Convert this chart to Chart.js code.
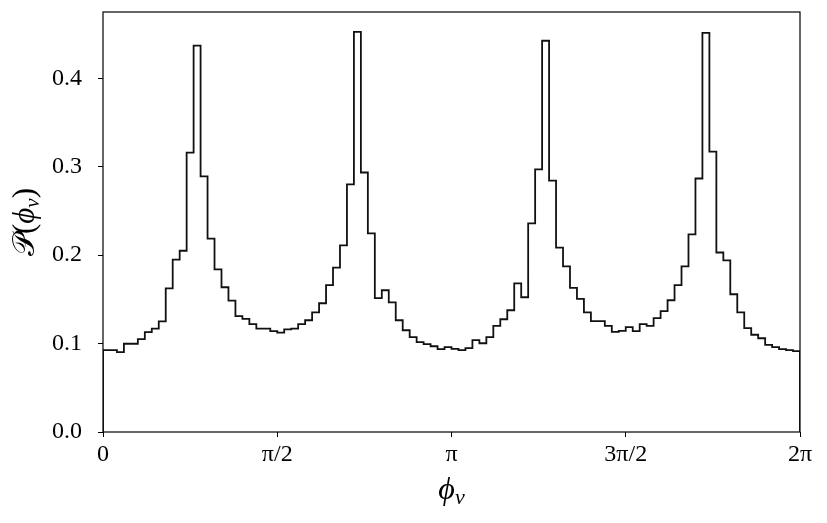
<!DOCTYPE html>
<html>
<head>
<meta charset="utf-8">
<script src="https://cdn.jsdelivr.net/npm/chart.js@4.4.0/dist/chart.umd.min.js"></script>
<style>
  html, body { margin: 0; padding: 0; background: #fff; }
  #wrap { width: 827px; height: 523px; }
</style>
</head>
<body>
<div id="wrap"><canvas id="hist"></canvas></div>
<script>
// histogram of phi_v, 100 bins over [0, 2pi]
const binCount = 100;
const binValues = [
  0.0925, 0.0925, 0.0903, 0.0998, 0.0998, 0.105, 0.113, 0.117, 0.125, 0.1625,
  0.195, 0.205, 0.316, 0.437, 0.289, 0.2186, 0.184, 0.1637, 0.1486, 0.131,
  0.128, 0.122, 0.117, 0.117, 0.114, 0.1125, 0.116, 0.117, 0.122, 0.1264,
  0.1354, 0.1456, 0.166, 0.186, 0.211, 0.280, 0.4526, 0.2935, 0.2246, 0.1513,
  0.1603, 0.1467, 0.1264, 0.1151, 0.1072, 0.1016, 0.0993, 0.097, 0.0937, 0.096,
  0.094, 0.0925, 0.0948, 0.1038, 0.1004, 0.1072, 0.120, 0.1275, 0.1377, 0.168,
  0.1524, 0.236, 0.297, 0.4425, 0.2844, 0.2085, 0.1874, 0.163, 0.1506, 0.1354,
  0.1253, 0.1253, 0.120, 0.1133, 0.1144, 0.1185, 0.114, 0.122, 0.120, 0.1287,
  0.1366, 0.149, 0.166, 0.1874, 0.2235, 0.2867, 0.4515, 0.317, 0.203, 0.194,
  0.1558, 0.1354, 0.1174, 0.110, 0.106, 0.0986, 0.096, 0.0937, 0.0925, 0.0914
];
const xTickValues = [0, Math.PI / 2, Math.PI, 3 * Math.PI / 2, 2 * Math.PI];
const xTickLabels = ['0', 'π/2', 'π', '3π/2', '2π'];
const yTickValues = [0, 0.1, 0.2, 0.3, 0.4];

const FONT = "'Liberation Serif', 'DejaVu Serif', serif";
const INK = '#000';

// step outline like matplotlib histtype='step'
const binWidth = 2 * Math.PI / binCount;
const stepPoints = [{ x: 0, y: 0 }];
binValues.forEach((v, i) => stepPoints.push({ x: i * binWidth, y: v }));
stepPoints.push({ x: 2 * Math.PI, y: binValues[binCount - 1] });
stepPoints.push({ x: 2 * Math.PI, y: 0 });

const framePlugin = {
  id: 'frame',
  afterDraw(chart) {
    const { ctx, chartArea: a } = chart;
    ctx.save();
    ctx.strokeStyle = INK;
    ctx.lineWidth = 1.2;
    ctx.strokeRect(a.left, a.top, a.right - a.left, a.bottom - a.top);

    // axis titles with subscript
    ctx.fillStyle = INK;
    ctx.textBaseline = 'alphabetic';
    // x title: phi_v
    const xc = (a.left + a.right) / 2;
    ctx.font = `italic 32px ${FONT}`;
    const wPhi = ctx.measureText('ϕ').width;
    ctx.font = `italic 22px ${FONT}`;
    const wV = ctx.measureText('v').width;
    let x0 = xc - (wPhi + wV) / 2;
    ctx.font = `italic 32px ${FONT}`;
    ctx.fillText('ϕ', x0, 499);
    ctx.font = `italic 22px ${FONT}`;
    ctx.fillText('v', x0 + wPhi, 504);

    // y title: P(phi_v), rotated
    ctx.translate(34, (a.top + a.bottom) / 2);
    ctx.rotate(-Math.PI / 2);
    const parts = [
      { t: '𝒫', f: `31px ${FONT}`, dy: 0 },
      { t: '(', f: `31px ${FONT}`, dy: 0 },
      { t: 'ϕ', f: `italic 31px ${FONT}`, dy: 0 },
      { t: 'v', f: `italic 21px ${FONT}`, dy: 5 },
      { t: ')', f: `31px ${FONT}`, dy: 0 }
    ];
    let total = 0;
    parts.forEach(p => { ctx.font = p.f; p.w = ctx.measureText(p.t).width; total += p.w; });
    let px = -total / 2;
    parts.forEach(p => {
      ctx.font = p.f;
      ctx.fillText(p.t, px, p.dy);
      px += p.w;
    });
    ctx.restore();
  }
};

new Chart(document.getElementById('hist').getContext('2d'), {
  type: 'line',
  data: {
    datasets: [{
      data: stepPoints,
      stepped: 'before',
      borderColor: '#111',
      borderWidth: 1.8,
      pointRadius: 0,
      fill: false
    }]
  },
  options: {
    responsive: true,
    maintainAspectRatio: false,
    animation: false,
    layout: { padding: { left: 0, right: 27, top: 12, bottom: 0 } },
    plugins: { legend: { display: false }, tooltip: { enabled: false } },
    scales: {
      x: {
        type: 'linear',
        min: 0,
        max: 2 * Math.PI,
        afterBuildTicks: (axis) => { axis.ticks = xTickValues.map(v => ({ value: v })); },
        afterFit: (axis) => {
          axis.height = 91;
          axis.paddingLeft = 0;
          axis.paddingRight = 0;
        },
        ticks: {
          autoSkip: false,
          maxRotation: 0,
          padding: 3,
          color: INK,
          font: { family: FONT, size: 24 },
          callback: (v, i) => xTickLabels[i]
        },
        grid: { drawOnChartArea: false, drawTicks: true, tickLength: 5, color: INK },
        border: { display: false }
      },
      y: {
        min: 0,
        max: 0.475,
        afterBuildTicks: (axis) => { axis.ticks = yTickValues.map(v => ({ value: v })); },
        afterFit: (axis) => {
          axis.width = 103;
          axis.paddingTop = 0;
          axis.paddingBottom = 0;
        },
        ticks: {
          padding: 16,
          color: INK,
          font: { family: FONT, size: 24 },
          callback: (v) => v.toFixed(1)
        },
        grid: { drawOnChartArea: false, drawTicks: true, tickLength: 5, color: INK },
        border: { display: false }
      }
    }
  },
  plugins: [framePlugin]
});
</script>
</body>
</html>
